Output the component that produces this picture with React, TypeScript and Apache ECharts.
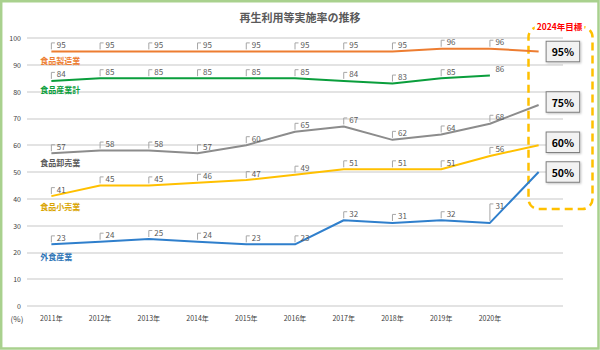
import React, { useEffect, useRef } from "react";
import * as echarts from "echarts";

// ---- data ----
const years = ["2011年", "2012年", "2013年", "2014年", "2015年", "2016年", "2017年", "2018年", "2019年", "2020年"];
const targetSlot = "2024年";
const categories = [...years, targetSlot];

const seizoValues = [95, 95, 95, 95, 95, 95, 95, 95, 96, 96];
const seizoTarget: number | null = 95;
const sangyoValues = [84, 85, 85, 85, 85, 85, 84, 83, 85, 86];
const sangyoTarget: number | null = null;
const oroshiValues = [57, 58, 58, 57, 60, 65, 67, 62, 64, 68];
const oroshiTarget: number | null = 75;
const kouriValues = [41, 45, 45, 46, 47, 49, 51, 51, 51, 56];
const kouriTarget: number | null = 60;
const gaishokuValues = [23, 24, 25, 24, 23, 23, 32, 31, 32, 31];
const gaishokuTarget: number | null = 50;

const yTicks = { min: 0, max: 100, interval: 10 };
const titleText = "再生利用等実施率の推移";
const targetTitle = "2024年目標";
const unitText = "(%)";

// ---- styles ----
const FONT = '"Noto Sans CJK JP", "Noto Sans", sans-serif';
const defs = [
  { name: "食品製造業", values: seizoValues, target: seizoTarget, color: "#ED7D31", nameColor: "#ED7D31", nameDy: 9, boxDy: 0, lift: {} as Record<number, number>, noBracket: [] as number[] },
  { name: "食品産業計", values: sangyoValues, target: sangyoTarget, color: "#0A9E3C", nameColor: "#0A9E3C", nameDy: 9, boxDy: 0, lift: {}, noBracket: [9] },
  { name: "食品卸売業", values: oroshiValues, target: oroshiTarget, color: "#8C8C8C", nameColor: "#595959", nameDy: 9, boxDy: -3, lift: {}, noBracket: [] },
  { name: "食品小売業", values: kouriValues, target: kouriTarget, color: "#FFC000", nameColor: "#D9A400", nameDy: 10, boxDy: -3, lift: {}, noBracket: [] },
  { name: "外食産業", values: gaishokuValues, target: gaishokuTarget, color: "#2F7FCC", nameColor: "#2E75B6", nameDy: 12, boxDy: 0, lift: { 9: 19 }, noBracket: [] },
];

export default function App() {
  const ref = useRef<HTMLDivElement>(null);
  useEffect(() => {
    if (!ref.current) return;
    const chart = echarts.init(ref.current, undefined, { renderer: "svg" });

    const series: any[] = [];
    defs.forEach((d) => {
      const lineData: any[] = [...d.values, d.target];
      series.push({
        type: "line",
        name: d.name,
        data: lineData,
        symbol: "none",
        lineStyle: { color: d.color, width: 2 },
        itemStyle: { color: d.color },
        connectNulls: false,
        z: 2,
      });
      series.push({
        type: "custom",
        name: d.name + "-labels",
        data: d.values.map((v, i) => [i, v]),
        clip: false,
        z: 3,
        renderItem: (params: any, api: any) => {
          const i = api.value(0);
          const v = api.value(1);
          const p = api.coord([i, v]);
          const lift = (d.lift as any)[i] ?? 8.5;
          const children: any[] = [];
          if (!d.noBracket.includes(i)) {
            children.push({
              type: "polyline",
              shape: { points: [[p[0], p[1] - 2], [p[0], p[1] - lift], [p[0] + 3.5, p[1] - lift]] },
              style: { stroke: "#A6A6A6", lineWidth: 1, fill: "none" },
            });
          }
          children.push({
            type: "text",
            x: p[0] + 5.5,
            y: p[1] - lift + 1.5,
            style: { text: String(v), fill: "#595959", fontSize: 8, fontFamily: FONT, align: "left", verticalAlign: "middle" },
          });
          if (i === 0) {
            children.push({
              type: "text",
              x: p[0] - 11,
              y: p[1] + d.nameDy,
              style: { text: d.name, fill: d.nameColor, fontSize: 8, fontWeight: "bold", fontFamily: FONT, align: "left", verticalAlign: "middle" },
            });
          }
          return { type: "group", children };
        },
      });
      if (d.target != null) {
        series.push({
          type: "custom",
          name: d.name + "-target",
          data: [[categories.length - 1, d.target]],
          clip: false,
          z: 4,
          renderItem: (params: any, api: any) => {
            const p = api.coord([api.value(0), api.value(1)]);
            return {
              type: "text",
              x: p[0] + 8,
              y: p[1] + d.boxDy,
              style: {
                text: `${api.value(1)}%`,
                fill: "#000",
                fontSize: 10.5,
                fontWeight: "bold",
                fontFamily: FONT,
                align: "left",
                verticalAlign: "middle",
                backgroundColor: "#F2F2F2",
                borderColor: "#808080",
                borderWidth: 1,
                padding: [5, 5, 4, 5],
                shadowColor: "rgba(0,0,0,0.25)",
                shadowBlur: 2,
                shadowOffsetX: 1,
                shadowOffsetY: 1,
              },
            };
          },
        });
      }
    });

    chart.setOption({
      animation: false,
      textStyle: { fontFamily: FONT },
      title: {
        text: titleText,
        left: "center",
        top: 11,
        padding: 0,
        textStyle: { fontSize: 11, fontWeight: "bold", color: "#595959", fontFamily: FONT },
      },
      grid: { left: 27, right: 37, top: 38, bottom: 44, containLabel: false, outerBoundsMode: "none" },
      xAxis: {
        type: "category",
        data: categories,
        boundaryGap: true,
        axisLine: { show: false },
        axisTick: { show: false },
        axisLabel: {
          interval: 0,
          fontSize: 7,
          color: "#404040",
          margin: 8,
          fontFamily: FONT,
          formatter: (v: string) => (v === targetSlot ? "" : v),
        },
      },
      yAxis: {
        type: "value",
        min: yTicks.min,
        max: yTicks.max,
        interval: yTicks.interval,
        axisLine: { show: false },
        axisTick: { show: false },
        axisLabel: { fontSize: 7, color: "#404040", margin: 6, fontFamily: FONT },
        splitLine: { lineStyle: { color: "#E3E3E3", width: 2 } },
      },
      graphic: [
        {
          type: "rect",
          shape: { x: 1.2, y: 1.2, width: 597.3, height: 347.3 },
          style: { fill: "none", stroke: "#A9D18E", lineWidth: 2.5 },
          silent: true,
        },
        {
          type: "rect",
          shape: { x: 528.5, y: 27, width: 64, height: 182, r: 10 },
          style: { fill: "none", stroke: "#FFC000", lineWidth: 2.5, lineDash: [8, 5] },
          silent: true,
          z: 1,
        },
        {
          type: "text",
          x: 559.5,
          y: 26,
          z: 5,
          style: {
            text: targetTitle,
            fill: "#FF0000",
            fontSize: 8.5,
            fontWeight: "bold",
            fontFamily: FONT,
            align: "center",
            verticalAlign: "middle",
            backgroundColor: "#FFFFFF",
            padding: [1, 2],
          },
        },
        {
          type: "text",
          x: 17,
          y: 318,
          style: { text: unitText, fill: "#404040", fontSize: 8, fontFamily: FONT, align: "center", verticalAlign: "middle" },
        },
      ],
      series,
    });
    return () => chart.dispose();
  }, []);
  return <div ref={ref} style={{ position: "fixed", left: 0, top: 0, width: 600, height: 350, background: "#fff" }} />;
}
